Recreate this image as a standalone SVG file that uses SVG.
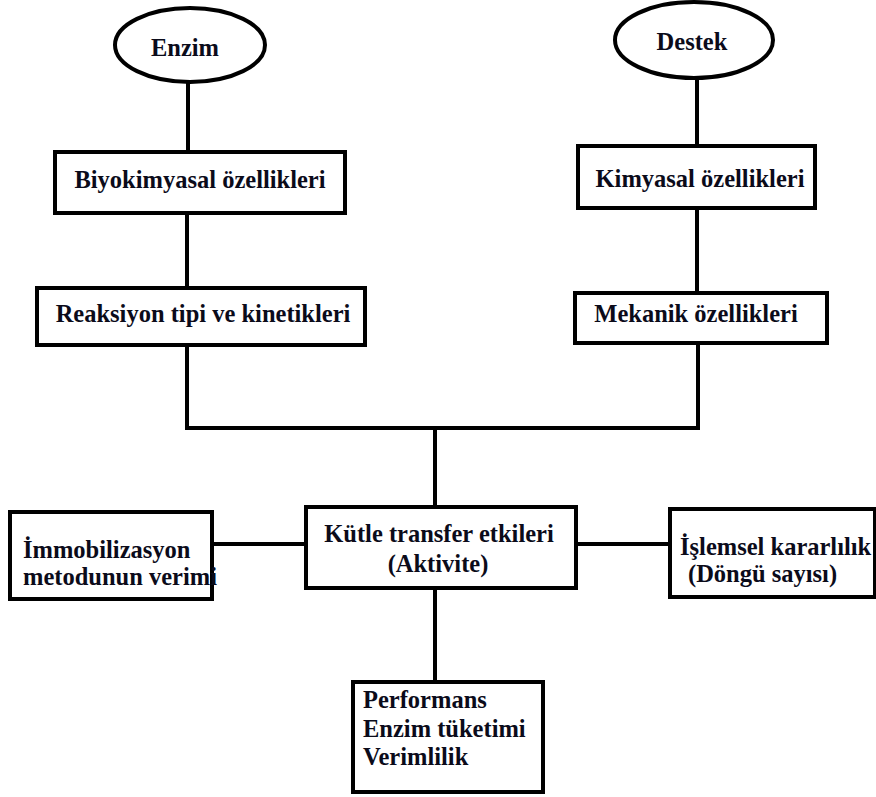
<svg xmlns="http://www.w3.org/2000/svg" width="876" height="797" viewBox="0 0 876 797">
<style>
.box{fill:#fff;stroke:#000;stroke-width:4}
.con{fill:none;stroke:#000;stroke-width:4;stroke-linecap:butt}
.t{font-family:"Liberation Serif","Times New Roman",serif;font-weight:bold;font-size:24.5px;fill:#0b0b1a}
.m{text-anchor:middle}
</style>
<rect width="876" height="797" fill="#fff"/>
<g id="connectors">
<line class="con" x1="188" y1="82" x2="188" y2="152"/>
<line class="con" x1="187" y1="213" x2="187" y2="288"/>
<polyline class="con" points="187,345 187,428 698,428 698,343"/>
<line class="con" x1="697" y1="78" x2="697" y2="146"/>
<line class="con" x1="697" y1="208" x2="697" y2="293"/>
<line class="con" x1="435" y1="428" x2="435" y2="507"/>
<line class="con" x1="212" y1="544" x2="306" y2="544"/>
<line class="con" x1="576" y1="544" x2="670" y2="544"/>
<line class="con" x1="435" y1="588" x2="435" y2="682"/>
</g>
<g id="enzim">
<ellipse class="box" cx="190" cy="45" rx="75" ry="37"/>
<text class="t m" x="185" y="56">Enzim</text>
</g>
<g id="destek">
<ellipse class="box" cx="694" cy="40" rx="79" ry="38"/>
<text class="t m" x="692" y="50">Destek</text>
</g>
<g id="biyokimyasal">
<rect class="box" x="55" y="152" width="290" height="61"/>
<text class="t m" x="200" y="188">Biyokimyasal özellikleri</text>
</g>
<g id="reaksiyon">
<rect class="box" x="37" y="288" width="328" height="57"/>
<text class="t m" x="203" y="322">Reaksiyon tipi ve kinetikleri</text>
</g>
<g id="kimyasal">
<rect class="box" x="578" y="146" width="237" height="62"/>
<text class="t m" x="700" y="187">Kimyasal özellikleri</text>
</g>
<g id="mekanik">
<rect class="box" x="575" y="293" width="252" height="50"/>
<text class="t m" x="696" y="322">Mekanik özellikleri</text>
</g>
<g id="kutle">
<rect class="box" x="306" y="507" width="270" height="81"/>
<text class="t m" x="439" y="542">Kütle transfer etkileri</text>
<text class="t m" x="438" y="572">(Aktivite)</text>
</g>
<g id="immobilizasyon">
<rect class="box" x="10" y="512" width="202" height="87"/>
<text class="t" x="23" y="558">İmmobilizasyon</text>
<text class="t" x="23" y="585">metodunun verimi</text>
</g>
<g id="islemsel">
<rect class="box" x="670" y="509" width="205" height="88"/>
<text class="t" x="680" y="555">İşlemsel kararlılık</text>
<text class="t" x="688" y="582">(Döngü sayısı)</text>
</g>
<g id="performans">
<rect class="box" x="353" y="682" width="190" height="110"/>
<text class="t" x="363" y="708">Performans</text>
<text class="t" x="363" y="737">Enzim tüketimi</text>
<text class="t" x="363" y="765">Verimlilik</text>
</g>
</svg>
